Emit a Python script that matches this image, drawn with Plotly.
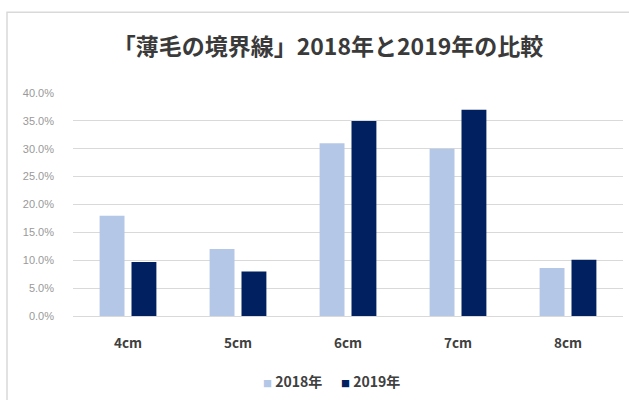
import plotly.graph_objects as go

categories = ["4cm", "5cm", "6cm", "7cm", "8cm"]
series_2018 = [0.180, 0.120, 0.310, 0.300, 0.086]
series_2019 = [0.097, 0.080, 0.350, 0.370, 0.101]
series_names = ["2018年", "2019年"]
series_colors = ["#b4c7e7", "#002060"]
tick_vals = [0, 0.05, 0.10, 0.15, 0.20, 0.25, 0.30, 0.35, 0.40]

W, H = 629, 400
L, R, T, B = 73, 6, 93, 83.5
pw, ph = W - L - R, H - T - B

def px_x(x):
    return (x - L) / pw

def px_y(y):
    return (H - B - y) / ph

font_family = "Noto Sans CJK JP, Noto Sans, sans-serif"

fig = go.Figure()
for name, vals, col in zip(series_names, [series_2018, series_2019], series_colors):
    fig.add_trace(go.Bar(x=categories, y=vals, name=name, showlegend=False,
                         marker=dict(color=col, line=dict(width=0))))

legend_text = "      ".join(
    f"<span style='color:{c};font-size:9px'>■</span> <b>{n}</b>"
    for n, c in zip(series_names, series_colors)
)

fig.update_layout(
    width=W, height=H,
    margin=dict(l=L, r=R, t=T, b=B, pad=0),
    paper_bgcolor="white", plot_bgcolor="white",
    barmode="group", bargap=0.42, bargroupgap=0.22,
    font=dict(family=font_family),
    title=dict(text="<b>「薄毛の境界線」2018年と2019年の比較</b>",
               x=px_x(328), xref="paper", xanchor="center",
               y=(H - 47) / H, yref="container", yanchor="middle",
               font=dict(size=23, color="#3a3a3a", family=font_family)),
    showlegend=False,
    annotations=[dict(text=legend_text, xref="paper", yref="paper",
                      x=px_x(331), y=px_y(382), xanchor="center", yanchor="middle",
                      showarrow=False,
                      font=dict(size=14, color="#404040", family=font_family))],
    shapes=[dict(type="rect", xref="paper", yref="paper",
                 x0=px_x(7), x1=px_x(640), y0=px_y(12), y1=px_y(420),
                 line=dict(color="#d9d9d9", width=1.5), layer="below")],
)
fig.update_xaxes(showgrid=False, showline=False, ticks="",
                 tickfont=dict(size=13.5, color="#404040", family=font_family),
                 ticklabelstandoff=17,
                 tickprefix="<b>", ticksuffix="</b>")
fig.update_yaxes(range=[0, 0.40], tickvals=tick_vals, tickformat=".1%",
                 showgrid=True, gridcolor="#d9d9d9", gridwidth=1,
                 zeroline=True, zerolinecolor="#d9d9d9", zerolinewidth=1,
                 showline=False, ticks="", ticklabelstandoff=18,
                 tickfont=dict(size=11, color="#999999", family="Liberation Sans, sans-serif"))

fig.write_html("out.html")
